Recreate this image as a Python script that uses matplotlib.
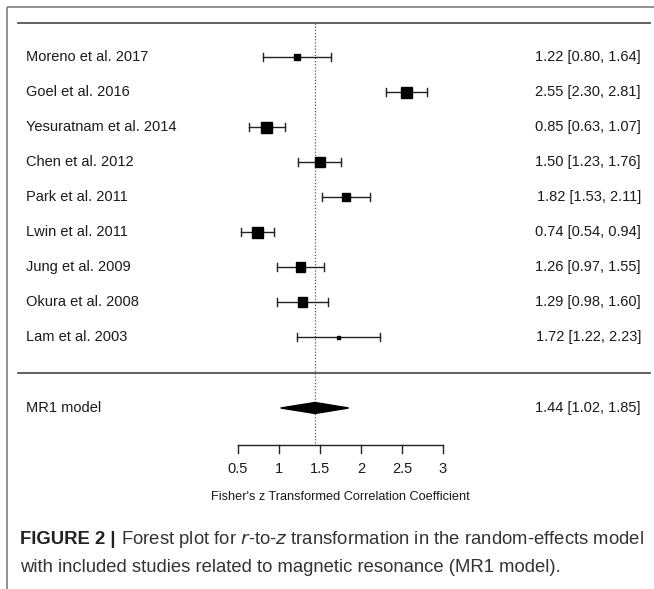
import matplotlib
matplotlib.use("Agg")
import matplotlib.pyplot as plt
from matplotlib.patches import Polygon, Rectangle
from matplotlib.transforms import offset_copy

plt.rcParams['font.family'] = ['Liberation Sans', 'DejaVu Sans']

studies = ["Moreno et al. 2017", "Goel et al. 2016", "Yesuratnam et al. 2014",
           "Chen et al. 2012", "Park et al. 2011", "Lwin et al. 2011",
           "Jung et al. 2009", "Okura et al. 2008", "Lam et al. 2003"]
est = [1.22, 2.55, 0.85, 1.50, 1.82, 0.74, 1.26, 1.29, 1.72]
lo = [0.80, 2.30, 0.63, 1.23, 1.53, 0.54, 0.97, 0.98, 1.22]
hi = [1.64, 2.81, 1.07, 1.76, 2.11, 0.94, 1.55, 1.60, 2.23]
weights = [10.7, 11.8, 11.8, 11.4, 11.2, 11.8, 11.4, 11.4, 9.9]

model_label = "MR1 model"
model_est, model_lo, model_hi = 1.44, 1.02, 1.85

xticks = [0.5, 1, 1.5, 2, 2.5, 3]
xtick_labels = ["0.5", "1", "1.5", "2", "2.5", "3"]
xlabel = "Fisher's z Transformed Correlation Coefficient"

W, H = 654, 589
fig = plt.figure(figsize=(W / 100, H / 100), dpi=100)
ax = fig.add_axes([0, 0, 1, 1])
ax.set_axis_off()

# scale: 82 px per unit, 0.5 at pixel 238
ppu = 82.0
x0 = 0.5 - 238 / ppu
ax.set_xlim(x0, x0 + W / ppu)
# rows: row 0 at pixel 57, 35 px per row
ppr = 35.0
y0 = -57 / ppr
ax.set_ylim(y0 + H / ppr, y0)

def px2x(p):
    return x0 + p / ppu

def px2y(p):
    return y0 + p / ppr

# frame lines (grey border of the figure panel)
ax.plot([px2x(7), px2x(7)], [px2y(7), px2y(589)], color="#888888", lw=1.3, solid_capstyle="butt")
ax.plot([px2x(7), px2x(654)], [px2y(7), px2y(7)], color="#888888", lw=1.3, solid_capstyle="butt")

# header / separator lines
ax.plot([px2x(18), px2x(650)], [px2y(23), px2y(23)], color="#444444", lw=1.2)
ax.plot([px2x(18), px2x(650)], [px2y(373), px2y(373)], color="#444444", lw=1.2)

# reference dotted line at model estimate
ax.plot([model_est, model_est], [px2y(23), px2y(445)], color="#555555", lw=0.9,
        linestyle=(0, (1, 1.5)))

rows = list(range(len(studies)))
wmin, wmax = min(weights), max(weights)
cap = 4 / ppr
for r, name, e, l, h, w in zip(rows, studies, est, lo, hi, weights):
    ax.plot([l, h], [r, r], color="#222222", lw=1.0)
    ax.plot([l, l], [r - cap, r + cap], color="#222222", lw=1.0)
    ax.plot([h, h], [r - cap, r + cap], color="#222222", lw=1.0)
    side = 3 + 8 * (w - wmin) / (wmax - wmin)
    ax.add_patch(Rectangle((e - side / 2 / ppu, r - side / 2 / ppr), side / ppu, side / ppr,
                           color="black", zorder=3))
    ax.text(px2x(26), r, name, ha="left", va="center", fontsize=10.5, color="#1a1a1a")
    ax.text(px2x(641), r, f"{e:.2f} [{l:.2f}, {h:.2f}]", ha="right", va="center",
            fontsize=10.5, color="#1a1a1a")

# summary diamond
ry = px2y(408)
dh = 5.5 / ppr
ax.add_patch(Polygon([(model_lo, ry), (model_est, ry - dh), (model_hi, ry), (model_est, ry + dh)],
                     closed=True, color="black", zorder=3))
ax.text(px2x(26), ry, model_label, ha="left", va="center", fontsize=10.5, color="#1a1a1a")
ax.text(px2x(641), ry, f"{model_est:.2f} [{model_lo:.2f}, {model_hi:.2f}]", ha="right",
        va="center", fontsize=10.5, color="#1a1a1a")

# x axis
ay = px2y(445)
ax.plot([xticks[0], xticks[-1]], [ay, ay], color="#222222", lw=1.0)
for t, tl in zip(xticks, xtick_labels):
    ax.plot([t, t], [ay, px2y(453)], color="#222222", lw=1.0)
    ax.text(t, px2y(469), tl, ha="center", va="center", fontsize=10.5, color="#1a1a1a")
ax.text((xticks[0] + xticks[-1]) / 2, px2y(497), xlabel, ha="center", va="center",
        fontsize=9.2, color="#1a1a1a")

# caption
cs = 13.3
cx = px2x(20)
t1 = ax.text(cx, px2y(539), "FIGURE 2 |", ha="left", va="center", fontsize=cs,
             fontweight="bold", color="#222222")
fig.canvas.draw()
bb = t1.get_window_extent()
ax.text(cx, px2y(539), r" Forest plot for $\it{r}$-to-$\it{z}$ transformation in the random-effects model",
        ha="left", va="center", fontsize=cs, color="#333333",
        transform=offset_copy(ax.transData, fig=fig, x=bb.width * 72 / 100, units="points"))
ax.text(cx, px2y(567), "with included studies related to magnetic resonance (MR1 model).",
        ha="left", va="center", fontsize=cs, color="#333333")

fig.savefig("out.png", dpi=100)
